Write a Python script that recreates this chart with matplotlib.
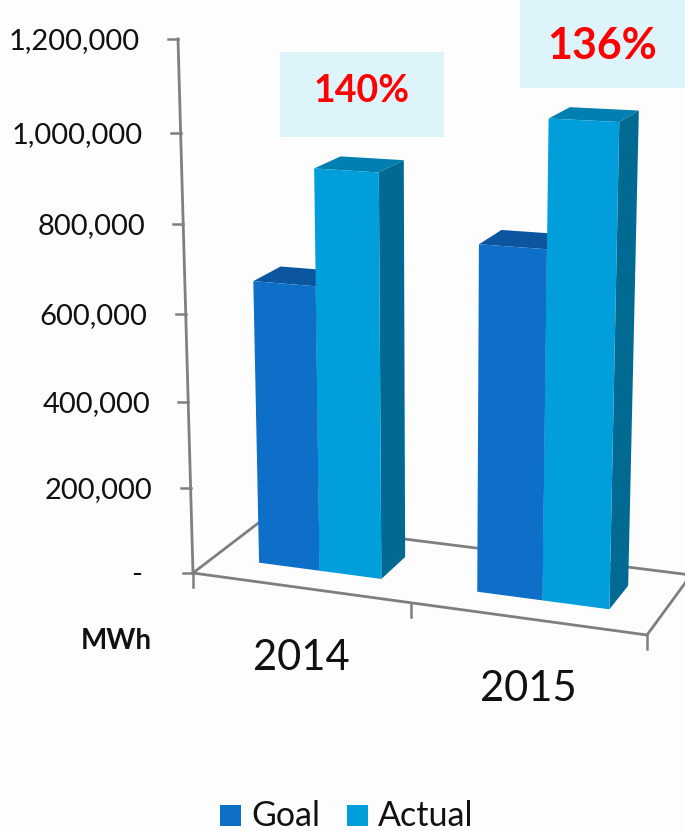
import numpy as np
import matplotlib
matplotlib.use('Agg')
import matplotlib.pyplot as plt
from matplotlib.patches import Polygon, Rectangle

years = ['2014', '2015']
goal = [657000, 777000]
actual = [917000, 1051000]
ratios = ['140%', '136%']
value_ticks = [0, 200000, 400000, 600000, 800000, 1000000, 1200000]
value_labels = ['-', '200,000', '400,000', '600,000', '800,000', '1,000,000', '1,200,000']

GOAL_COLORS = ('#0d6fc8', '#0b569f', '#0a5a9c')
ACTUAL_COLORS = ('#009fdb', '#007fb0', '#006a92')
AXIS_COLOR = '#7f7f7f'

plt.rcParams['font.family'] = ['Lato', 'DejaVu Sans']

# camera calibration: floor corners on the image and where the verticals meet
floor_px = [(193, 573), (647, 635), (691, 575), (261, 521)]
floor_xy = [(0, 0), (2, 0), (2, 1), (0, 1)]
vanish = np.array([435.0, 9190.0, 1.0])
axis_top_y = 39
axis_max = 1200000

A = []
b = []
for (x, d), (px, py) in zip(floor_xy, floor_px):
    A.append([x, d, 1, 0, 0, 0, -px * x, -px * d])
    A.append([0, 0, 0, x, d, 1, -py * x, -py * d])
    b += [px, py]
H = np.append(np.linalg.solve(np.array(A, float), np.array(b, float)), 1).reshape(3, 3)
lam = (axis_top_y - floor_px[0][1]) / (vanish[1] - axis_top_y) / axis_max


def project(x, d, z=0):
    p = H @ np.array([x, d, 1.0]) + z * lam * vanish
    return p[0] / p[2], p[1] / p[2]


def draw_bar(ax, x0, x1, d0, d1, value, colors):
    front, top, side = colors
    ax.add_patch(Polygon([project(x0, d0, value), project(x1, d0, value),
                          project(x1, d1, value), project(x0, d1, value)],
                         fc=top, ec='none', zorder=3))
    ax.add_patch(Polygon([project(x1, d0, 0), project(x1, d1, 0),
                          project(x1, d1, value), project(x1, d0, value)],
                         fc=side, ec='none', zorder=3))
    ax.add_patch(Polygon([project(x0, d0, 0), project(x1, d0, 0),
                          project(x1, d0, value), project(x0, d0, value)],
                         fc=front, ec='none', zorder=3))


fig = plt.figure(figsize=(6.85, 8.31), dpi=100, facecolor='#fdfdfd')
ax = fig.add_axes([0, 0, 1, 1])
ax.set_xlim(0, 685)
ax.set_ylim(831, 0)
ax.axis('off')

# floor outline and axes
corners = [project(0, 0), project(2, 0), project(2, 1), project(0, 1), project(0, 0)]
ax.plot([c[0] for c in corners], [c[1] for c in corners], color=AXIS_COLOR, lw=2, zorder=1)
top = project(0, 0, axis_max)
ax.plot([corners[0][0], top[0]], [corners[0][1], top[1]], color=AXIS_COLOR, lw=2, zorder=1)

for val, label in zip(value_ticks, value_labels):
    tx, ty = project(0, 0, val)
    ax.plot([tx - 10, tx], [ty, ty], color=AXIS_COLOR, lw=1.8, zorder=1)
    if label == '-':
        ax.text(137, ty + 2, label, ha='center', va='center', fontsize=21, color='#111111')
    else:
        ax.text(tx - 38, ty + 2, label, ha='right', va='center', fontsize=21, color='#111111')

for i in range(3):
    tx, ty = project(i, 0)
    ax.plot([tx, tx], [ty, ty + 14], color=AXIS_COLOR, lw=1.8, zorder=1)

# bars
bar_w = 0.285
for i in range(len(years)):
    draw_bar(ax, i + 0.5 - bar_w, i + 0.5, 0.3, 0.7, goal[i], GOAL_COLORS)
    draw_bar(ax, i + 0.5, i + 0.5 + bar_w, 0.3, 0.7, actual[i], ACTUAL_COLORS)

# labels
ax.text(116, 641, 'MWh', ha='center', va='center', fontsize=20, fontweight='bold', color='#111111')
ax.text(301, 658, years[0], ha='center', va='center', fontsize=30, color='#111111')
ax.text(528, 689, years[1], ha='center', va='center', fontsize=30, color='#111111')

ax.add_patch(Rectangle((280, 52), 164, 85, fc='#dcf4fa', ec='none', zorder=4))
ax.add_patch(Rectangle((520, 0), 165, 88, fc='#dcf4fa', ec='none', zorder=4))
ax.text(362, 91, ratios[0], ha='center', va='center', fontsize=27, fontweight='bold', color='#ff0000', zorder=5)
ax.text(602, 46, ratios[1], ha='center', va='center', fontsize=31, fontweight='bold', color='#ff0000', zorder=5)

# legend
ax.add_patch(Rectangle((220, 805), 21, 21, fc=GOAL_COLORS[0], ec='none'))
ax.add_patch(Rectangle((347, 805), 21, 21, fc=ACTUAL_COLORS[0], ec='none'))
ax.text(251, 816, 'Goal', ha='left', va='center', fontsize=24.5, color='#111111')
ax.text(378, 816, 'Actual', ha='left', va='center', fontsize=24.5, color='#111111')

fig.savefig('out.png', dpi=100, facecolor=fig.get_facecolor())
